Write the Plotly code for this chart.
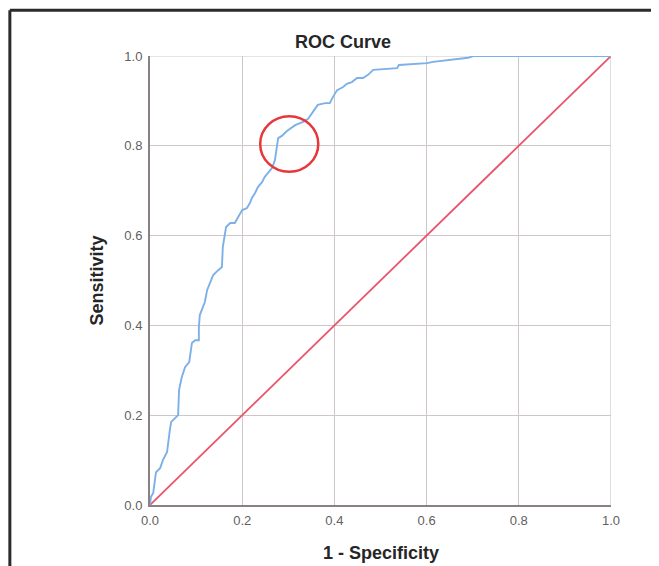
import plotly.graph_objects as go

# ROC curve values (1 - specificity, sensitivity)
fpr = [0.000, 0.002, 0.007, 0.011, 0.013, 0.022, 0.028, 0.037, 0.039, 0.043,
       0.046, 0.054, 0.061, 0.063, 0.069, 0.076, 0.085, 0.091, 0.098, 0.106,
       0.106, 0.108, 0.115, 0.119, 0.124, 0.130, 0.137, 0.148, 0.156, 0.158,
       0.163, 0.165, 0.174, 0.184, 0.191, 0.200, 0.210, 0.217, 0.221, 0.228,
       0.234, 0.243, 0.249, 0.256, 0.265, 0.271, 0.275, 0.278, 0.286, 0.297,
       0.315, 0.332, 0.343, 0.354, 0.364, 0.380, 0.390, 0.397, 0.406, 0.419,
       0.427, 0.438, 0.449, 0.462, 0.473, 0.484, 0.536, 0.540, 0.601, 0.614,
       0.651, 0.690, 0.701, 1.000]
tpr = [0.000, 0.018, 0.027, 0.056, 0.073, 0.082, 0.100, 0.118, 0.138, 0.167,
       0.185, 0.194, 0.200, 0.256, 0.285, 0.307, 0.318, 0.361, 0.367, 0.367,
       0.396, 0.423, 0.439, 0.452, 0.479, 0.494, 0.512, 0.523, 0.530, 0.575,
       0.601, 0.619, 0.628, 0.628, 0.641, 0.657, 0.661, 0.673, 0.684, 0.695,
       0.708, 0.719, 0.731, 0.739, 0.751, 0.768, 0.791, 0.817, 0.822, 0.833,
       0.846, 0.853, 0.860, 0.875, 0.891, 0.895, 0.895, 0.909, 0.924, 0.931,
       0.938, 0.942, 0.951, 0.951, 0.958, 0.969, 0.973, 0.980, 0.984, 0.987,
       0.991, 0.996, 1.000, 1.000]

ref_x = [0.0, 1.0]
ref_y = [0.0, 1.0]

tick_vals = [0.0, 0.2, 0.4, 0.6, 0.8, 1.0]
tick_text = ["0.0", "0.2", "0.4", "0.6", "0.8", "1.0"]

# highlighted region (circle) in data units
circle_cx, circle_cy = 0.302, 0.804
circle_rx, circle_ry = 0.063, 0.062

fig = go.Figure()
fig.add_trace(go.Scatter(x=ref_x, y=ref_y, mode="lines",
                         line=dict(color="#e9566b", width=1.8),
                         showlegend=False, hoverinfo="skip"))
fig.add_trace(go.Scatter(x=fpr, y=tpr, mode="lines",
                         line=dict(color="#7db0e8", width=1.9),
                         showlegend=False))

grid = "#cfc7c7"
axis_common = dict(range=[0, 1], tickvals=tick_vals, ticktext=tick_text,
                   showgrid=True, gridcolor=grid, gridwidth=1.2,
                   zeroline=False, showline=True, linecolor="#8a8282",
                   linewidth=2, ticks="",
                   tickfont=dict(family="Liberation Sans, Arial", size=13,
                                 color="#5f5f5f"),
                   fixedrange=True)
fig.update_xaxes(**axis_common, ticklabelstandoff=2)
fig.update_yaxes(**axis_common, ticklabelstandoff=3)

shapes = [
    # light lines closing the plot at top and right
    dict(type="line", xref="x", yref="y", x0=0, x1=1, y0=1, y1=1,
         line=dict(color=grid, width=1.2), layer="below"),
    dict(type="line", xref="x", yref="y", x0=1, x1=1, y0=0, y1=1,
         line=dict(color=grid, width=1.2), layer="below"),
    # red circle highlight
    dict(type="circle", xref="x", yref="y",
         x0=circle_cx - circle_rx, x1=circle_cx + circle_rx,
         y0=circle_cy - circle_ry, y1=circle_cy + circle_ry,
         line=dict(color="#e8373a", width=2.5)),
    # outer frame (top and left edges visible)
    dict(type="line", xref="paper", yref="paper", x0=-0.304, x1=1.11,
         y0=1.102, y1=1.102, line=dict(color="#2b2b2b", width=3)),
    dict(type="line", xref="paper", yref="paper", x0=-0.304, x1=-0.304,
         y0=1.102, y1=-0.14, line=dict(color="#2b2b2b", width=3)),
]

title_font = dict(family="Liberation Sans, Arial", size=18, color="#262626")
annotations = [
    dict(text="<b>1 - Specificity</b>", xref="paper", yref="paper",
         x=0.5, y=-0.107, xanchor="center", yanchor="middle",
         showarrow=False, font=title_font),
    dict(text="<b>Sensitivity</b>", xref="paper", yref="paper",
         x=-0.115, y=0.5, xanchor="center", yanchor="middle",
         textangle=-90, showarrow=False, font=title_font),
]

W, H = 651, 558
fig.update_layout(
    width=W, height=H,
    margin=dict(l=142, r=48, t=48, b=61),
    paper_bgcolor="white", plot_bgcolor="white",
    title=dict(text="<b>ROC Curve</b>", x=335 / W, xanchor="center",
               y=1 - 34 / H, yanchor="middle", xref="container",
               yref="container", font=title_font),
    shapes=shapes, annotations=annotations,
)

fig.write_html("out.html")
